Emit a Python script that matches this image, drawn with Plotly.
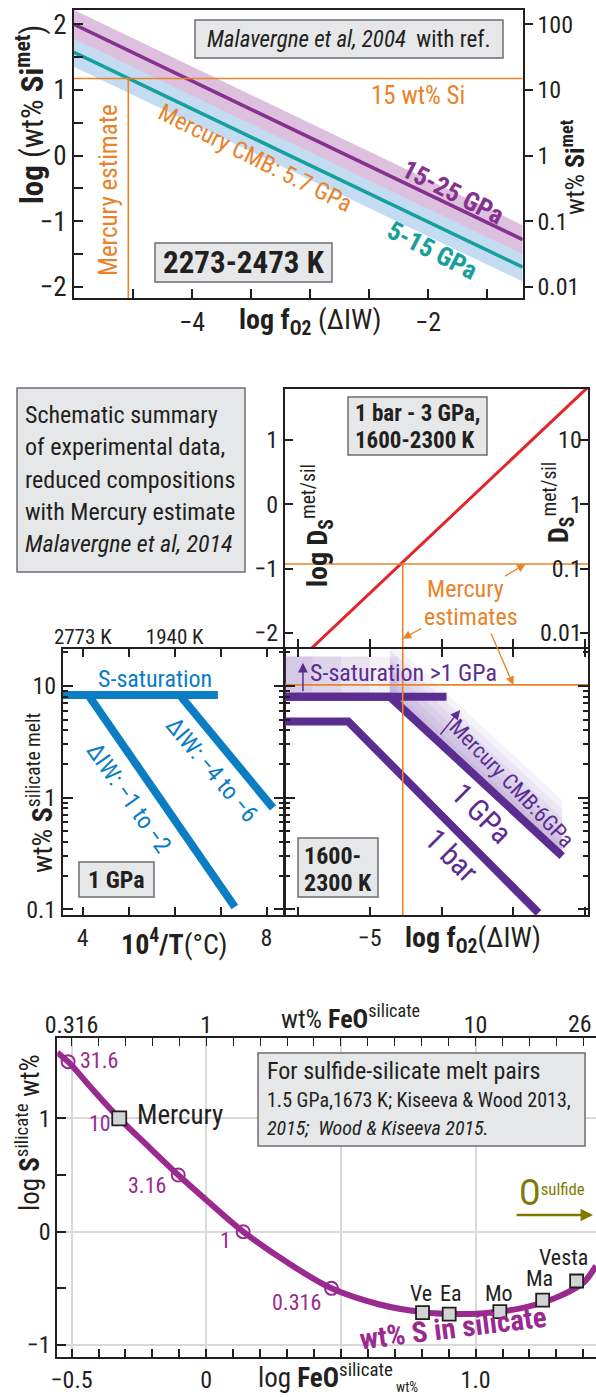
import numpy as np
import plotly.graph_objects as go

W, H = 596, 1397
def fx(p): return p / W
def fy(p): return 1 - p / H

FONT = "Liberation Sans Narrow, Arial Narrow, Roboto Condensed, Roboto, sans-serif"
INK = "#231F20"
ORANGE = "#E8832A"
PURPLE_A = "#86318F"
TEAL = "#15A09E"
BAND_P = "#DCC0DE"
BAND_B = "#C3DCF1"
RED = "#E2262B"
BLUE = "#0A7DC3"
PURPLE_D = "#5C2D91"
MAGENTA = "#9A2A90"
OLIVE = "#7F7A00"
BOXFILL = "#E6E7E8"
BOXLINE = "#6D6E71"
GRID = "#D9D9D9"
M = "\u2212"

# ---------------- DATA ----------------
# Panel A : log wt% Si in metal vs log fO2 (Malavergne et al. 2004)
fo2_si = [-5.0, -1.2]
logsi_15_25 = [2.00, -1.28]
logsi_5_15 = [1.575, -1.70]
band_half = 0.22
logsi_mercury = 1.176          # 15 wt% Si
fo2_mercury = -4.54
rangeA_x = [-5.0, -1.2]
rangeA_y = [-2.17, 2.22]

# Panel B : log D_S met/sil vs log fO2
fo2_ds = [-5.82, -1.96]
logds = [-2.25, 1.82]
logds_mercury = -0.93
rangeB_x = [-6.18, -1.96]
rangeB_y = [-2.22, 1.79]

# Panel C : wt% S silicate vs 10^4/T
invT_sat = [3.57, 6.94]
s_sat = [8.3, 8.3]
invT_iw12 = [4.12, 7.31]
s_iw12 = [8.3, 0.105]
invT_iw46 = [6.11, 8.14]
s_iw46 = [8.3, 0.81]
rangeC_x = [3.57, 8.38]
rangeC_ylog = [-1.05, 1.33]
topC_vals = [4, 6]
topC_text = ["2773 K", "1940 K"]

# Panel D : wt% S silicate vs log fO2
fo2_1gpa = [-6.18, -4.72, -2.32]
s_1gpa = [8.0, 8.0, 0.30]
fo2_1gpa_sat = [-6.18, -3.93]
s_1gpa_sat = [8.0, 8.0]
fo2_1bar = [-6.18, -5.30, -2.65]
s_1bar = [4.8, 4.8, 0.093]
s_mercury_sat = 10.2
glow_left_ends = [-4.6, -5.0, -5.4, -5.8]

# Panel E : log S silicate vs log FeO silicate
curve_x = [-0.553, -0.513, -0.42, -0.323, -0.21, -0.104, 0.0, 0.137, 0.30, 0.465,
           0.64, 0.803, 0.905, 1.0, 1.09, 1.18, 1.25, 1.32, 1.40, 1.447]
curve_y = [1.58, 1.5, 1.25, 1.0, 0.74, 0.5, 0.28, 0.0, -0.27, -0.5,
           -0.64, -0.71, -0.725, -0.725, -0.705, -0.67, -0.625, -0.56, -0.45, -0.30]
circ_x = [-0.513, -0.323, -0.104, 0.137, 0.465]
circ_y = [1.5, 1.0, 0.5, 0.0, -0.5]
circ_lab = ["31.6", "10", "3.16", "1", "0.316"]
planet_lab = ["Ve", "Ea", "Mo", "Ma", "Vesta"]
planet_x = [0.803, 0.902, 1.09, 1.249, 1.375]
planet_y = [-0.715, -0.727, -0.706, -0.603, -0.435]
mercury_x, mercury_y = -0.323, 1.0
rangeE_x = [-0.553, 1.447]
rangeE_y = [-1.103, 1.706]
topE_vals = [-0.5, 0.0, 1.0]
topE_text = ["0.316", "1", "10"]
topE_edge_text = "26"

# ---------------- FIGURE ----------------
fig = go.Figure()

def add(x, y, xa, ya, **kw):
    fig.add_trace(go.Scatter(x=x, y=y, xaxis=xa, yaxis=ya, hoverinfo="skip",
                             showlegend=False, **kw))

def ghost(xa, ya, x, y):
    add([x], [y], xa, ya, mode="markers", marker=dict(opacity=0, size=1))

# Panel A
for yy, col in [(logsi_5_15, BAND_B), (logsi_15_25, BAND_P)]:
    up = [v + band_half for v in yy]
    lo = [v - band_half for v in yy]
    add(fo2_si + fo2_si[::-1], up + lo[::-1], "x", "y", mode="lines",
        fill="toself", fillcolor=col, line=dict(width=0))
add(fo2_si, logsi_5_15, "x", "y", mode="lines", line=dict(color=TEAL, width=3.5))
add(fo2_si, logsi_15_25, "x", "y", mode="lines", line=dict(color=PURPLE_A, width=3.5))
add(rangeA_x, [logsi_mercury] * 2, "x", "y", mode="lines", line=dict(color=ORANGE, width=1.6))
add([fo2_mercury] * 2, [rangeA_y[0], logsi_mercury], "x", "y", mode="lines",
    line=dict(color=ORANGE, width=1.6))
ghost("x", "y2", -3, 1)

# Panel B
add(fo2_ds, logds, "x3", "y3", mode="lines", line=dict(color=RED, width=3))
add(rangeB_x, [logds_mercury] * 2, "x3", "y3", mode="lines", line=dict(color=ORANGE, width=1.6))
add([fo2_mercury] * 2, [rangeB_y[0], logds_mercury], "x3", "y3", mode="lines",
    line=dict(color=ORANGE, width=1.6))
ghost("x3", "y4", -3, 1)

# Panel C
add(invT_sat, s_sat, "x5", "y5", mode="lines", line=dict(color=BLUE, width=8))
add(invT_iw12, s_iw12, "x5", "y5", mode="lines", line=dict(color=BLUE, width=8))
add(invT_iw46, s_iw46, "x5", "y5", mode="lines", line=dict(color=BLUE, width=8))
ghost("x6", "y5", 5, 1)

# Panel D : soft glow (Mercury CMB region) above the 1 GPa curve
glow_fill = "rgba(125,85,175,0.075)"
dx, ds = fo2_1gpa[1:], s_1gpa[1:]
for off in [0.5, 0.42, 0.34, 0.26, 0.18, 0.10]:
    upper = [s * 10 ** off for s in ds]
    add(dx + dx[::-1], ds + upper[::-1], "x7", "y7", mode="lines",
        fill="toself", fillcolor=glow_fill, line=dict(width=0))
for xe in glow_left_ends:
    s0 = s_1gpa[0]
    add([fo2_1gpa[0], xe, xe, fo2_1gpa[0]], [s0, s0, s0 * 10 ** 0.36, s0 * 10 ** 0.36],
        "x7", "y7", mode="lines", fill="toself", fillcolor="rgba(125,85,175,0.09)",
        line=dict(width=0))
add(fo2_1gpa_sat, s_1gpa_sat, "x7", "y7", mode="lines", line=dict(color=PURPLE_D, width=8))
add(fo2_1gpa, s_1gpa, "x7", "y7", mode="lines", line=dict(color=PURPLE_D, width=8))
add(fo2_1bar, s_1bar, "x7", "y7", mode="lines", line=dict(color=PURPLE_D, width=8))
add(rangeB_x, [s_mercury_sat] * 2, "x7", "y7", mode="lines", line=dict(color=ORANGE, width=1.6))
add([fo2_mercury] * 2, [10 ** rangeC_ylog[0], 10 ** rangeC_ylog[1]], "x7", "y7", mode="lines",
    line=dict(color=ORANGE, width=1.6))

# Panel E
add(curve_x, curve_y, "x8", "y8", mode="lines", line=dict(color=MAGENTA, width=6, shape="spline"))
add(circ_x, circ_y, "x8", "y8", mode="markers",
    marker=dict(symbol="circle", size=13, color="rgba(0,0,0,0)", line=dict(color=MAGENTA, width=2)))
add(planet_x, planet_y, "x8", "y8", mode="markers",
    marker=dict(symbol="square", size=13, color="#D1D3D4", line=dict(color=INK, width=1.8)))
add([mercury_x], [mercury_y], "x8", "y8", mode="markers",
    marker=dict(symbol="square", size=14, color="#D1D3D4", line=dict(color=INK, width=1.8)))
ghost("x9", "y8", 0.5, 0)

# ---------------- AXES ----------------
base = dict(showline=True, linecolor=INK, linewidth=2, zeroline=False, showgrid=False,
            automargin=False, tickcolor=INK, tickwidth=1.5,
            tickfont=dict(family=FONT, size=24, color=INK))

def ax(**kw):
    d = dict(base)
    d.update(kw)
    return d

dec_minor = [v * m for v in [0.1, 1, 10] for m in range(2, 10)]
tenths = [round(-0.5 + 0.1 * i, 2) for i in range(20)]

layout_axes = dict(
    # Panel A
    xaxis=ax(domain=[fx(74), fx(522.7)], anchor="y", range=rangeA_x, tick0=0, dtick=2,
             ticks="inside", ticklen=9, mirror=True, tickfont=dict(family=FONT, size=26, color=INK),
             minor=dict(ticks="inside", dtick=0.5, tick0=0, ticklen=9, tickcolor=INK)),
    yaxis=ax(domain=[fy(298), fy(10)], anchor="x", range=rangeA_y, tick0=0, dtick=1,
             ticks="inside", ticklen=9, tickfont=dict(family=FONT, size=27, color=INK),
             minor=dict(ticks="inside", dtick=0.5, tick0=0, ticklen=9, tickcolor=INK)),
    yaxis2=ax(overlaying="y", side="right", anchor="x", type="log", range=rangeA_y,
              tickvals=[0.01, 0.1, 1, 10, 100], ticktext=["0.01", "0.1", "1", "10", "100"],
              ticks="outside", ticklen=8),
    # Panel B
    xaxis3=ax(domain=[fx(285), fx(588)], anchor="y3", range=rangeB_x, tick0=0, dtick=1,
              ticks="inside", ticklen=8, showticklabels=False, mirror=True),
    yaxis3=ax(domain=[fy(647), fy(389)], anchor="x3", range=rangeB_y, tick0=0, dtick=1,
              ticks="inside", ticklen=8),
    yaxis4=ax(overlaying="y3", side="right", anchor="x3", type="log", range=rangeB_y,
              tickvals=[0.01, 0.1, 1, 10], ticktext=["0.01", "0.1", "1", "10"],
              ticks="inside", ticklen=8, ticklabelposition="inside", ticklabeloverflow="allow"),
    # Panel C
    xaxis5=ax(domain=[fx(63), fx(284)], anchor="y5", range=rangeC_x,
              tickvals=[4, 8], ticks="inside", ticklen=8, mirror="ticks",
              minor=dict(ticks="inside", tickvals=[5, 6, 7], ticklen=8, tickcolor=INK)),
    xaxis6=ax(overlaying="x5", side="top", anchor="y5", range=rangeC_x, showline=False,
              tickvals=topC_vals, ticktext=topC_text, ticks="",
              tickfont=dict(family=FONT, size=21, color=INK)),
    yaxis5=ax(domain=[fy(915), fy(649)], anchor="x5", type="log", range=rangeC_ylog,
              tickvals=[0.1, 1, 10], ticktext=["0.1", "1", "10"], ticks="inside", ticklen=10,
              mirror="ticks",
              minor=dict(ticks="inside", tickvals=dec_minor, ticklen=5, tickcolor=INK)),
    # Panel D
    xaxis7=ax(domain=[fx(285), fx(588)], anchor="y7", range=rangeB_x,
              tickvals=[-5, -2], ticktext=[M + "5", M + "2"],
              ticks="inside", ticklen=8, mirror="ticks",
              minor=dict(ticks="inside", tickvals=[-6, -4, -3], ticklen=8, tickcolor=INK)),
    yaxis7=ax(domain=[fy(915), fy(649)], anchor="x7", type="log", range=rangeC_ylog,
              tickvals=[0.1, 1, 10], showticklabels=False, ticks="inside", ticklen=10,
              mirror="ticks",
              minor=dict(ticks="inside", tickvals=dec_minor, ticklen=5, tickcolor=INK)),
    # Panel E
    xaxis8=ax(domain=[fx(57.3), 1.0], anchor="y8", range=rangeE_x,
              tickvals=[-0.5, 0, 0.5, 1.0], ticktext=[M + "0.5", "0", "", "1.0"],
              ticks="inside", ticklen=8, mirror=True, showgrid=True, gridcolor=GRID, gridwidth=1.5,
              minor=dict(ticks="inside", tickvals=tenths, ticklen=8, tickcolor=INK, showgrid=False)),
    xaxis9=ax(overlaying="x8", side="top", anchor="y8", range=rangeE_x, showline=False,
              tickvals=topE_vals, ticktext=topE_text, ticks="",
              minor=dict(ticks="inside", tickvals=tenths, ticklen=8, tickcolor=INK, showgrid=False)),
    yaxis8=ax(domain=[fy(1356.7), fy(1038.3)], anchor="x8", range=rangeE_y,
              tickvals=[-1, 0, 1], ticktext=[M + "1", "0", "1"], ticks="inside", ticklen=9,
              showgrid=True, gridcolor=GRID, gridwidth=1.5,
              minor=dict(ticks="inside", tickvals=[-0.5, 0.5], ticklen=9, tickcolor=INK,
                         showgrid=False)),
)

# ---------------- ANNOTATIONS ----------------
anns = []
def ann(text, x, y, size=24, color=INK, angle=0, xanchor="center", yanchor="middle",
        align="center"):
    anns.append(dict(text=text, x=fx(x), y=fy(y), xref="paper", yref="paper", showarrow=False,
                     font=dict(family=FONT, size=size, color=color), textangle=angle,
                     xanchor=xanchor, yanchor=yanchor, align=align))

def arrow(x, y, xr, yr, axp, ayp, color, width=1.3, head=2, size=1.3):
    anns.append(dict(text="", x=x, y=y, xref=xr, yref=yr, ax=axp, ay=ayp, showarrow=True,
                     arrowcolor=color, arrowwidth=width, arrowhead=head, arrowsize=size))

shapes = []
def box(x0, y0, x1, y1):
    shapes.append(dict(type="rect", xref="paper", yref="paper", x0=fx(x0), x1=fx(x1),
                       y0=fy(y0), y1=fy(y1), fillcolor=BOXFILL,
                       line=dict(color=BOXLINE, width=1.5), layer="above"))

# Panel A text
box(195, 20, 503, 58)
ann("<i>Malavergne et al, 2004</i>\u2002with ref.", 349, 39, size=23)
ann("15 wt% Si", 418, 95, size=25, color=ORANGE)
ann("Mercury estimate", 108, 190, size=25, color=ORANGE, angle=-90)
ann("Mercury CMB: 5.7 GPa", 255, 158, size=24, color=ORANGE, angle=26.5)
ann("<b>15-25 GPa</b>", 453, 192, size=26, color=PURPLE_A, angle=27)
ann("<b>5-15 GPa</b>", 432, 250, size=26, color=TEAL, angle=27)
box(155, 243, 332, 282)
ann("<b>2273-2473 K</b>", 243.5, 263, size=31)
ann("<b>log</b> (wt% <b>Si<sup>met</sup></b>)", 30, 115, size=31, angle=-90)
ann("wt% <b>Si<sup>met</sup></b>", 573, 167, size=26, angle=-90)
ann("<b>log f<sub>O2</sub></b> (\u0394IW)", 310, 322, size=28)

# Panel B text
box(17, 388, 245, 572)
summary_lines = ["Schematic summary", "of experimental data,", "reduced compositions",
                 "with Mercury estimate", "<i>Malavergne et al, 2014</i>"]
for i, line in enumerate(summary_lines):
    ann(line, 23, 415 + 32.3 * i, size=24, xanchor="left")
box(348, 397, 487, 455)
ann("<b>1 bar - 3 GPa,</b>", 353, 413, size=23, xanchor="left")
ann("<b>1600-2300 K</b>", 353, 440, size=23, xanchor="left")
ann("<b>log D<sub>S</sub></b><sup>met/sil</sup>", 318, 525, size=28, angle=-90)
ann("<b>D<sub>S</sub></b><sup>met/sil</sup>", 558, 503, size=28, angle=-90)
ann("Mercury", 465, 589, size=24, color=ORANGE)
ann("estimates", 471, 617, size=24, color=ORANGE)
arrow(-2.83, logds_mercury, "x3", "y3", -22, 13, ORANGE)
arrow(fo2_mercury, -2.09, "x3", "y3", 20, -11, ORANGE)
arrow(-3.0, np.log10(s_mercury_sat), "x7", "y7", -23, -53, ORANGE)

# Panel C text
ann("S-saturation", 155, 679, size=24, color=BLUE)
ann("\u0394IW: " + M + "1 to " + M + "2", 129, 798, size=24, color=BLUE, angle=55)
ann("\u0394IW: " + M + "4 to " + M + "6", 212, 770, size=24, color=BLUE, angle=50)
box(79, 862, 154, 897)
ann("<b>1 GPa</b>", 116.5, 880, size=24)
ann("wt% <b>S</b><sup>silicate melt</sup>", 40, 793, size=28, angle=-90)
ann("<b>10<sup>4</sup>/T</b>(\u00b0C)", 174, 942, size=28)

# Panel D text
ann("S-saturation >1 GPa", 308, 673, size=24, color=PURPLE_D, xanchor="left")
arrow(-5.93, 1.206, "x7", "y7", 0, 30, PURPLE_D, width=1.5)
ann("Mercury CMB:6GPa", 512, 783, size=22, color=PURPLE_D, angle=46)
arrow(-3.74, 0.785, "x7", "y7", -21, 26, PURPLE_D, width=1.5)
ann("1 GPa", 482, 813, size=30, color=PURPLE_D, angle=45)
ann("1 bar", 452, 855, size=30, color=PURPLE_D, angle=45)
box(298, 838, 378, 897)
ann("<b>1600-</b>", 302, 856, size=24, xanchor="left")
ann("<b>2300 K</b>", 302, 883, size=24, xanchor="left")
ann("<b>log f<sub>O2</sub></b>(\u0394IW)", 473, 940, size=28)

# Panel E text
box(258, 1053, 585, 1146)
ann("For sulfide-silicate melt pairs", 265, 1071, size=24, xanchor="left")
ann("1.5 GPa,1673 K; Kiseeva & Wood 2013,", 265, 1100, size=20, xanchor="left")
ann("<i>2015;\u2002Wood & Kiseeva 2015.</i>", 265, 1128, size=20, xanchor="left")
ann("Mercury", 180, 1115, size=27)
circ_lab_pos = [(78, 1060, "left"), (113, 1123, "right"), (168, 1185, "right"),
                (233, 1240, "right"), (323, 1302, "right")]
for lab, (lx, ly, anc) in zip(circ_lab, circ_lab_pos):
    ann(lab, lx, ly, size=22, color=MAGENTA, xanchor=anc)
planet_lab_pos = [(421, 1293), (450, 1293), (499, 1293), (539, 1278), (563, 1257)]
for lab, (lx, ly) in zip(planet_lab, planet_lab_pos):
    ann(lab, lx, ly, size=22)
ann("<b>wt% S in silicate</b>", 453, 1328, size=29, color=MAGENTA, angle=-7)
ann("O<span style='font-size:24px'><sup>sulfide</sup></span>", 552, 1193, size=36, color=OLIVE)
arrow(1.436, 0.147, "x8", "y8", -78, 0, OLIVE, width=2.5, head=2, size=1.0)
ann("log <b>S</b><sup>silicate</sup> wt%", 28, 1133, size=27, angle=-90)
ann("log <b>FeO</b><sup>silicate</sup><span style='font-size:20px'><sub> wt%</sub></span>",
    338, 1376, size=27)
ann("wt% <b>FeO</b><sup>silicate</sup>", 350, 1017, size=26)
ann(topE_edge_text, 594, 1024, size=24, xanchor="right")

fig.update_layout(
    template="none",
    width=W, height=H, margin=dict(l=0, r=0, t=0, b=0, pad=0),
    paper_bgcolor="white", plot_bgcolor="white", showlegend=False,
    font=dict(family=FONT, color=INK),
    annotations=anns, shapes=shapes, **layout_axes,
)

fig.write_html("out.html")
